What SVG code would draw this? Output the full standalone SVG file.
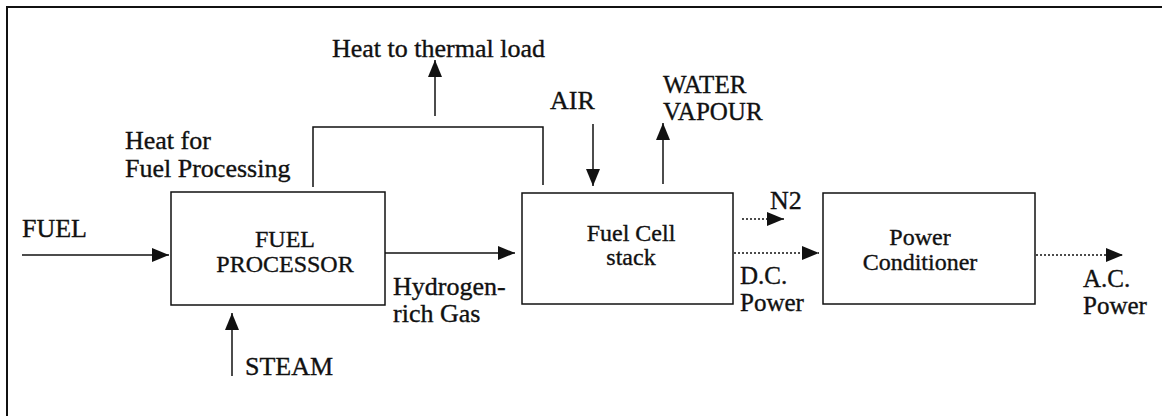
<svg xmlns="http://www.w3.org/2000/svg" width="1162" height="416" viewBox="0 0 1162 416">
<style>
  text { font-family: "Liberation Serif", "Times New Roman", serif; fill: #111; stroke: #111; stroke-width: 0.35; }
  .lbl { font-size: 26px; }
  .lbl2 { font-size: 25px; }
  .box-t { font-size: 24px; text-anchor: middle; }
  .box { fill: #fff; stroke: #111; stroke-width: 1.5; }
  .ln { fill: none; stroke: #111; stroke-width: 1.5; }
  .dot { fill: none; stroke: #111; stroke-width: 1.5; stroke-dasharray: 2 2; }
  .frame { fill: none; stroke: #111; stroke-width: 2; }
</style>
<defs>
  <marker id="ah" markerUnits="userSpaceOnUse" markerWidth="18" markerHeight="14" refX="17" refY="7" orient="auto">
    <path d="M0,0 L17,7 L0,14 z" fill="#111"/>
  </marker>
</defs>
<rect width="1162" height="416" fill="#fff"/>
<path class="frame" d="M7,416 L7,7 L1162,7"/>

<g id="connectors">
  <line class="ln" x1="22" y1="255" x2="169" y2="255" marker-end="url(#ah)"/>
  <line class="ln" x1="232" y1="376" x2="232" y2="313" marker-end="url(#ah)"/>
  <line class="ln" x1="385" y1="253" x2="515" y2="253" marker-end="url(#ah)"/>
  <polyline class="ln" points="313,187 313,127 543,127 543,185"/>
  <line class="ln" x1="435" y1="116" x2="435" y2="60" marker-end="url(#ah)"/>
  <line class="ln" x1="593" y1="124" x2="593" y2="186" marker-end="url(#ah)"/>
  <line class="ln" x1="663" y1="184" x2="663" y2="123" marker-end="url(#ah)"/>
  <line class="dot" x1="742" y1="219" x2="784" y2="219" marker-end="url(#ah)"/>
  <line class="dot" x1="734" y1="253" x2="819" y2="253" marker-end="url(#ah)"/>
  <line class="dot" x1="1036" y1="255" x2="1123" y2="255" marker-end="url(#ah)"/>
</g>

<g id="fuel-processor">
  <rect class="box" x="171" y="192" width="214" height="113"/>
  <text class="box-t" x="285" y="247">FUEL<tspan x="285" dy="25">PROCESSOR</tspan></text>
</g>
<g id="fuel-cell-stack">
  <rect class="box" x="522" y="193" width="211" height="111"/>
  <text class="box-t" x="631" y="241">Fuel Cell<tspan x="631" dy="24">stack</tspan></text>
</g>
<g id="power-conditioner">
  <rect class="box" x="823" y="193" width="212" height="111"/>
  <text class="box-t" x="920" y="245">Power<tspan x="920" dy="25">Conditioner</tspan></text>
</g>

<g id="labels">
  <text class="lbl" x="332" y="57">Heat to thermal load</text>
  <text class="lbl" x="125" y="149">Heat for<tspan x="125" dy="28">Fuel Processing</tspan></text>
  <text class="lbl" x="550" y="109">AIR</text>
  <text class="lbl2" x="663" y="93">WATER<tspan x="663" dy="26.5">VAPOUR</tspan></text>
  <text class="lbl" x="770" y="209">N2</text>
  <text class="lbl2" x="740" y="284">D.C.<tspan x="740" dy="26.5">Power</tspan></text>
  <text class="lbl2" x="1083" y="287">A.C.<tspan x="1083" dy="26.5">Power</tspan></text>
  <text class="lbl" x="22" y="237">FUEL</text>
  <text class="lbl" x="393" y="295">Hydrogen-<tspan x="393" dy="27">rich Gas</tspan></text>
  <text class="lbl" x="245" y="375">STEAM</text>
</g>
</svg>
